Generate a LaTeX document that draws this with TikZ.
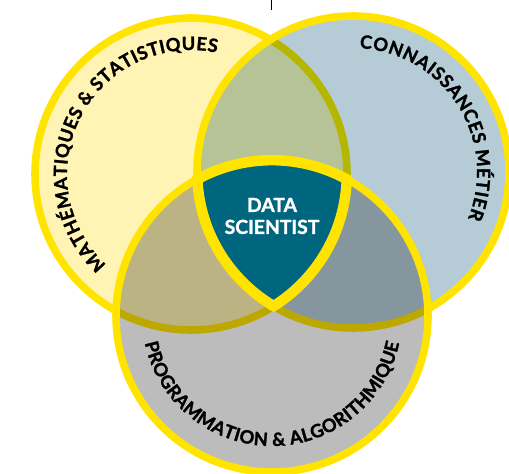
\documentclass[tikz,border=0pt]{standalone}
\usepackage{fontspec}
\setmainfont{Lato}
\newfontfamily\heavyfont{Lato}[BoldFeatures={FakeBold=1.5}]
\usetikzlibrary{decorations.text}

\definecolor{ringyellow}{HTML}{FFE400}
\definecolor{mathsfill}{HTML}{FFF4B4}
\definecolor{metierfill}{HTML}{B5CCD7}
\definecolor{progfill}{HTML}{BCBCBC}
\definecolor{datateal}{HTML}{00657F}

\newcommand{\ringfont}{\fontsize{10.4}{11}\heavyfont\bfseries}

\tikzset{
  ring/.style={draw=ringyellow, line width=4.3pt},
  ringlabel/.style={decorate, decoration={text along path, text align={fit to path}, text={|\ringfont|#1}}},
}

\begin{document}
\begin{tikzpicture}[x=0.02cm, y=0.02cm]
  \useasboundingbox (0,0) rectangle (509,473);
  \clip (0,0) rectangle (509,473);

  \coordinate (maths) at (191,299);
  \coordinate (metier) at (353,301);
  \coordinate (prog) at (272,157);

  % the three rings, each one multiplied over the ones before
  \fill[mathsfill] (maths) circle (156);
  \draw[ring] (maths) circle (156);
  \fill[metierfill, blend mode=multiply] (metier) circle (156);
  \draw[ring] (metier) circle (156);
  \fill[progfill, blend mode=multiply] (prog) circle (156);
  \draw[ring] (prog) circle (156);

  % common part
  \begin{scope}
    \clip (maths) circle (156);
    \clip (metier) circle (156);
    \clip (prog) circle (156);
    \fill[datateal] (0,0) rectangle (509,473);
  \end{scope}
  \begin{scope}
    \clip (maths) circle (161);
    \clip (metier) circle (161);
    \clip (prog) circle (161);
    \draw[ring, line width=6.2pt] (maths) circle (156) (metier) circle (156) (prog) circle (156);
  \end{scope}

  \node[text=white, font=\fontsize{11}{12.5}\heavyfont\bfseries, align=center] (datasci) at (272,257) {DATA\\SCIENTIST};

  \path[ringlabel={MATHÉMATIQUES {\&} STATISTIQUES}] (maths) ++(227:124) arc (227:78:124);
  \path[ringlabel={CONNAISSANCES MÉTIER}] (metier) ++(87:124) arc (87:-22:124);
  \path[ringlabel={PROGRAMMATION {\&} ALGORITHMIQUE}] (prog) ++(192:130) arc (192:348:130);

  \coordinate (tick) at (271.5,473);
  \draw[line width=0.5pt] (tick) -- ++(0,-10);
\end{tikzpicture}
\end{document}
